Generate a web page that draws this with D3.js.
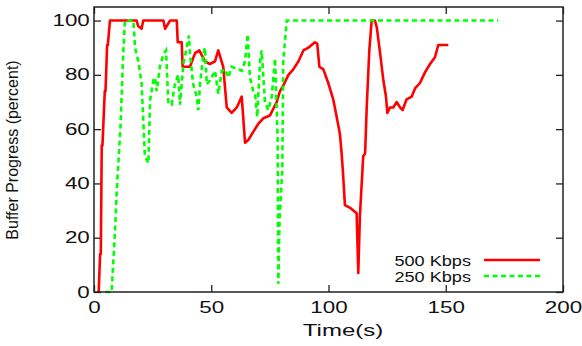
<!DOCTYPE html>
<html>
<head>
<meta charset="utf-8">
<script src="https://cdn.jsdelivr.net/npm/d3@7"></script>
<style>
  body { margin: 0; background: #fff; }
  text { font-family: "Liberation Sans", Arial, sans-serif; fill: #111; }
</style>
</head>
<body>
<div id="chart"></div>
<script>
var svgWidth = 582;
var svgHeight = 346;

// plot area in pixels
var margin = { top: 7, right: 19, bottom: 54, left: 94 };
var width = svgWidth - margin.left - margin.right;
var height = svgHeight - margin.top - margin.bottom;

// data (time in s, buffer progress in %)
var redTime = [2.0, 2.6, 2.9, 3.3, 3.6, 4.6, 4.9, 5.6, 5.9, 6.8, 18.2, 18.8, 20.3, 21.0, 29.6, 30.3, 32.4, 35.3, 35.7, 37.4,
  37.8, 40.9, 43.1, 44.9, 47.3, 49.4, 51.6, 53.0, 54.4, 55.1, 56.6, 58.7, 60.9, 63.0, 64.4, 65.8, 67.9, 70.1, 72.2, 75.0,
  77.9, 79.3, 80.7, 82.9, 85.0, 87.2, 89.3, 91.4, 94.2, 95.2, 96.1, 97.8, 99.9, 102.0, 103.5, 104.9, 105.6, 106.1, 107.0, 109.2,
  112.0, 112.7, 113.4, 114.8, 115.6, 116.3, 117.4, 118.4, 119.8, 120.6, 122.0, 123.4, 124.5, 125.1, 126.2, 127.6, 129.1, 130.5, 131.6, 133.3,
  135.5, 136.9, 139.0, 141.2, 143.3, 145.4, 146.8, 151.1];
var redValue = [0, 14, 14, 54, 54, 74, 74, 91, 91, 100, 100, 98, 97, 100, 100, 97, 100, 100, 92, 92,
  83, 83, 88, 89, 85, 84, 85, 89, 85, 83, 68, 66, 68, 72, 55, 56, 59, 62, 64, 65,
  70, 74, 76, 80, 82, 85, 89, 90, 92, 91.5, 83, 82, 77, 71, 64.5, 58, 51, 45, 32, 31,
  29, 7, 28, 50, 51, 68, 89, 100, 100, 97.5, 88, 78, 72, 66, 68, 68, 70, 68, 67, 71,
  72, 75, 77, 81, 84, 86.5, 91, 91];

var greenTime = [4.8, 7.5, 9.0, 9.7, 10.7, 11.3, 12.5, 13.2, 16.8, 17.5, 18.9, 19.6, 20.3, 21.7, 23.2, 23.9, 25.3, 26.0, 26.7, 28.1,
  29.6, 30.7, 31.7, 33.1, 34.5, 35.9, 36.7, 38.1, 39.5, 40.5, 40.9, 42.3, 43.8, 44.5, 45.2, 46.6, 47.3, 48.1, 49.5, 51.6,
  53.0, 54.5, 55.9, 57.3, 58.7, 63.0, 64.4, 65.5, 66.5, 67.9, 68.7, 69.6, 70.8, 71.5, 72.9, 74.3, 75.8, 77.2, 78.3, 78.6,
  79.1, 80.3, 80.7, 82.2, 172.4];
var greenValue = [0, 0, 23, 37.5, 52, 61, 89, 100, 100, 90, 85, 81, 77, 50, 47.5, 70.5, 78, 79, 74, 83,
  87.5, 89, 69.5, 69, 76.5, 80, 69, 84, 90, 94.5, 88, 76.5, 72, 67, 76.5, 87.5, 90, 76.5, 78, 81.5,
  73, 81.5, 82, 79, 83, 81.5, 85, 95, 79, 74, 73, 64.5, 85, 89, 70, 67, 72, 86, 57, 3,
  26, 45, 85, 100, 100];

var seriesNames = ["500 Kbps", "250 Kbps"];
var xTicks = [0, 50, 100, 150, 200];
var yTicks = [0, 20, 40, 60, 80, 100];

var textStretch = 1.4; // labels in the picture are drawn wide

var svg = d3.select("#chart")
  .append("svg")
  .attr("width", svgWidth)
  .attr("height", svgHeight);

var chartGroup = svg.append("g")
  .attr("transform", `translate(${margin.left}, ${margin.top})`);

var xScale = d3.scaleLinear().domain([0, 200]).range([0, width]);
var yScale = d3.scaleLinear().domain([0, 105]).range([height, 0]);

// axes with inward ticks
var bottomAxis = d3.axisBottom(xScale).tickValues(xTicks).tickSize(-7).tickPadding(10);
var leftAxis = d3.axisLeft(yScale).tickValues(yTicks).tickSize(-7).tickPadding(3);
var topAxis = d3.axisTop(xScale).tickValues(xTicks).tickSize(-7).tickFormat("");
var rightAxis = d3.axisRight(yScale).tickValues(yTicks).tickSize(-7).tickFormat("");

function styleAxis(g) {
  g.select(".domain").remove();
  g.selectAll("line").attr("stroke", "#222").attr("stroke-width", 1.3);
  g.selectAll("text")
    .attr("font-size", 16)
    .attr("fill", "#111")
    .attr("transform", `scale(${textStretch},1)`);
}

chartGroup.append("g").attr("transform", `translate(0, ${height})`).call(bottomAxis).call(styleAxis);
chartGroup.append("g").call(leftAxis).call(styleAxis);
chartGroup.append("g").call(topAxis).call(styleAxis);
chartGroup.append("g").attr("transform", `translate(${width}, 0)`).call(rightAxis).call(styleAxis);

// series
var redData = redTime.map((t, i) => ({ t: t, v: redValue[i] }));
var greenData = greenTime.map((t, i) => ({ t: t, v: greenValue[i] }));

var line = d3.line().x(d => xScale(d.t)).y(d => yScale(d.v));

chartGroup.append("path")
  .datum(redData)
  .attr("fill", "none")
  .attr("stroke", "#ff0000")
  .attr("stroke-width", 2.6)
  .attr("stroke-linejoin", "round")
  .attr("d", line);

chartGroup.append("path")
  .datum(greenData)
  .attr("fill", "none")
  .attr("stroke", "#00ff00")
  .attr("stroke-width", 2.6)
  .attr("stroke-dasharray", "5,3.5")
  .attr("d", line);

// frame
chartGroup.append("rect")
  .attr("width", width)
  .attr("height", height)
  .attr("fill", "none")
  .attr("stroke", "#222")
  .attr("stroke-width", 1.5);

// legend
var legend = svg.append("g");
var legendColors = ["#ff0000", "#00ff00"];
var legendDash = [null, "5,3.5"];
seriesNames.forEach(function(name, i) {
  var baseline = 266 + i * 16;
  legend.append("text")
    .attr("transform", `translate(471, ${baseline}) scale(1.25,1)`)
    .attr("text-anchor", "end")
    .attr("font-size", 14.5)
    .text(name);
  legend.append("line")
    .attr("x1", 484)
    .attr("x2", 540)
    .attr("y1", baseline - 6)
    .attr("y2", baseline - 6)
    .attr("stroke", legendColors[i])
    .attr("stroke-width", 2.6)
    .attr("stroke-dasharray", legendDash[i]);
});

// axis titles
svg.append("text")
  .attr("transform", `translate(343, 336) scale(1.5,1)`)
  .attr("text-anchor", "middle")
  .attr("font-size", 16)
  .text("Time(s)");

svg.append("text")
  .attr("transform", `translate(18, 150) rotate(-90)`)
  .attr("text-anchor", "middle")
  .attr("font-size", 16)
  .text("Buffer Progress (percent)");
</script>
</body>
</html>
